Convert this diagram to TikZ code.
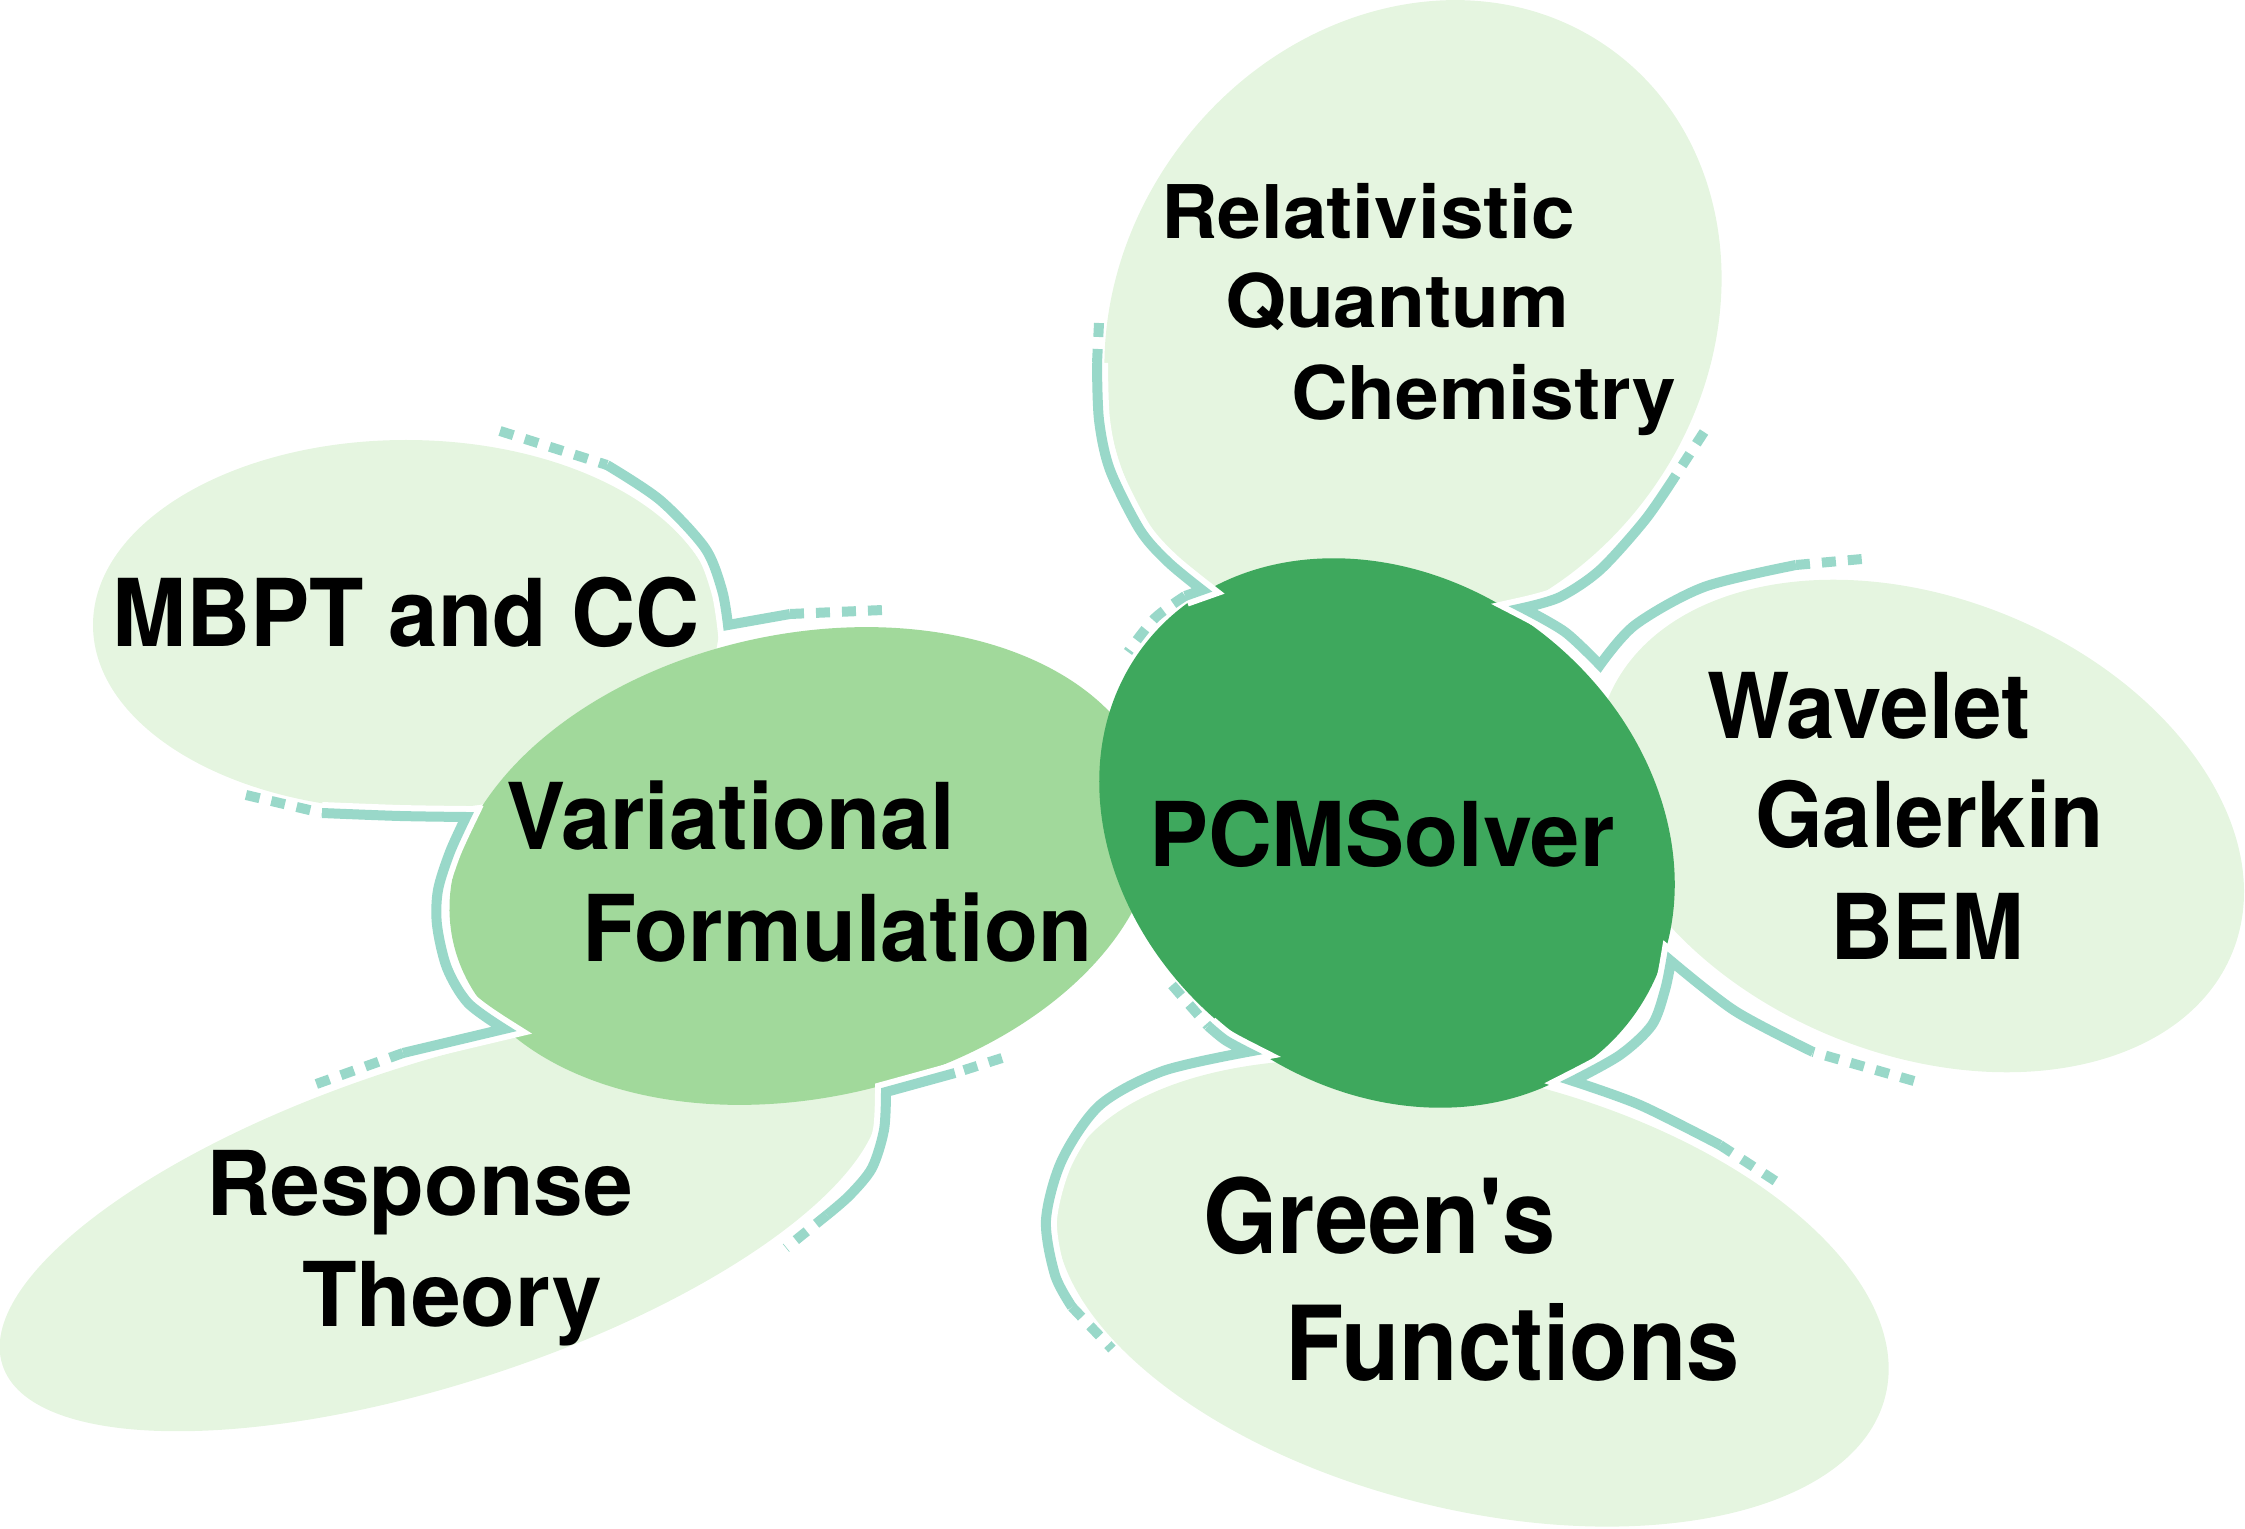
\documentclass[tikz,border=0pt]{standalone}
\usepackage{fontspec}
\setmainfont{TeX Gyre Heros}[Ligatures=TeXOff]
\usetikzlibrary{shapes.geometric}
\definecolor{gOuter}{HTML}{E5F5E0}
\definecolor{gMid}{HTML}{A1D99B}
\definecolor{gDark}{HTML}{3EA85D}
\definecolor{connTeal}{HTML}{99D8C9}
\tikzset{
  bubble/.style={ellipse, inner sep=0pt, draw=none},
  outerbub/.style={bubble, fill=gOuter},
  whiteline/.style={draw=white, line width=11pt, line join=miter, miter limit=12},
  conn/.style={draw=connTeal, line width=5pt, line join=miter, miter limit=12},
  conndash/.style={draw=connTeal, line width=5pt, dash pattern=on 7pt off 6pt}
}
\tikzset{lbl/.style={anchor=base west, inner sep=0pt, outer sep=0pt, text=black, font=\bfseries}}
\newcommand{\lblsize}[1]{\fontsize{#1}{#1}\selectfont}
\newcommand{\cOne}{plot[smooth] coordinates {(607,465) (660,500) (705,548) (722,590) (728,625)} -- (790,614)}
\newcommand{\cTwo}{plot[smooth] coordinates {(322,813) (400,816) (466,817)}
  -- plot[smooth] coordinates {(466,817) (450,852) (438,890) (437,925) (447,968) (468,1003) (504,1029)}
  -- (403,1053)}
\newcommand{\cThree}{(955,1073) -- (886,1092)
  -- plot[smooth] coordinates {(886,1092) (884,1130) (872,1168) (850,1195) (827,1215)}}
\newcommand{\cFour}{plot[smooth] coordinates {(1097,363) (1099,420) (1110,470) (1140,530) (1168,562) (1202,590)} -- (1185,596)}
\newcommand{\cFive}{plot[smooth] coordinates {(1676,475) (1645,520) (1600,570) (1560,597) (1523,608)}
  -- plot[smooth] coordinates {(1523,608) (1565,632) (1600,665)}
  -- plot[smooth] coordinates {(1600,665) (1635,625) (1704,587) (1796,565)}}
\newcommand{\cSix}{plot[smooth] coordinates {(1813,1052) (1735,1011) (1671,961)}
  -- plot[smooth] coordinates {(1671,961) (1665,990) (1652,1025) (1620,1055) (1573,1081)}
  -- plot[smooth] coordinates {(1573,1081) (1640,1105) (1720,1145)}}
\newcommand{\cSeven}{plot[smooth] coordinates {(1208,1026) (1225,1040) (1247,1052)}
  -- plot[smooth] coordinates {(1247,1052) (1163,1071) (1100,1105) (1062,1160) (1046,1220) (1055,1275) (1072,1307)}}
\begin{document}
\begin{tikzpicture}[x=0.5pt, y=-0.5pt]
\useasboundingbox (0,0) rectangle (2245,1529);
\clip (0,0) rectangle (2245,1529);
% outer bubbles
\node[outerbub, minimum width=313pt, minimum height=185pt] (mbpt) at (406,625) {};
\node[outerbub, minimum width=460pt, minimum height=160pt, rotate=18] (resp) at (440,1223) {};
\node[outerbub, minimum width=337pt, minimum height=292pt, rotate=53.6] (rqc) at (1413,322) {};
\node[outerbub, minimum width=337pt, minimum height=228pt, rotate=-22] (wav) at (1920,826) {};
\node[outerbub, minimum width=426pt, minimum height=216pt, rotate=-14] (green) at (1472,1293) {};
% inner bubbles
\node[bubble, fill=gMid, minimum width=358pt, minimum height=232pt, rotate=12] (var) at (803,866) {};
\node[bubble, fill=gDark, minimum width=307pt, minimum height=253pt, rotate=-38] (pcm) at (1387,833) {};

% white halos under the solid connector parts
\draw[whiteline] \cOne;
\draw[whiteline] \cTwo;
\draw[whiteline] \cThree;
\draw[whiteline] \cFour;
\draw[whiteline] \cFive;
\draw[whiteline] \cSix;
\draw[whiteline] \cSeven;

% connector 1: MBPT top -> Variational top
\draw[conndash] (500,431) -- (607,465);
\draw[conn] \cOne;
\draw[conndash] (790,614) -- (883,610);
% connector 2: MBPT bottom -> Variational left -> Response top
\draw[conndash] (246,795) -- (322,813);
\draw[conn] \cTwo;
\draw[conndash] (403,1053) -- (308,1087);
% connector 3: Variational bottom right -> Response right
\draw[conndash] (1002,1058) -- (955,1073);
\draw[conn] \cThree;
\draw[conndash] (827,1215) -- (786,1248);
% connector 4: RQC left -> PCM top left
\draw[conndash] (1099,323) -- (1097,363);
\draw[conn] \cFour;
\draw[conndash] plot[smooth] coordinates {(1185,596) (1155,618) (1128,652)};
% connector 5: RQC right -> tip -> Wavelet top
\draw[conndash] (1704,432) -- (1676,475);
\draw[conn] \cFive;
\draw[conndash] (1796,565) -- (1862,559);
% connector 6: Wavelet bottom -> tip -> Green's top right
\draw[conndash] (1914,1081) -- (1813,1052);
\draw[conn] \cSix;
\draw[conndash] (1720,1145) -- (1780,1184);
% connector 7: PCM bottom left -> Green's left
\draw[conndash] (1172,985) -- (1208,1026);
\draw[conn] \cSeven;
\draw[conndash] (1072,1307) -- (1112,1349);

% labels
\node[lbl] (t-mbpt) at (112,647) {\lblsize{46.8pt}\scalebox{0.95}[1]{MBPT and CC}};
\node[lbl] (t-var1) at (506,849) {\lblsize{46.1pt}\scalebox{0.96}[1]{Variational}};
\node[lbl] (t-var2) at (582,961) {\lblsize{46.1pt}\scalebox{0.96}[1]{Formulation}};
\node[lbl] (t-pcm) at (1149,866) {\lblsize{44.7pt}\scalebox{0.99}[1]{PCMSolver}};
\node[lbl] (t-rqc1) at (1161,239) {\lblsize{37pt}\scalebox{1.06}[1]{Relativistic}};
\node[lbl] (t-rqc2) at (1225,328) {\lblsize{37pt}\scalebox{1.06}[1]{Quantum}};
\node[lbl] (t-rqc3) at (1291,420) {\lblsize{37pt}\scalebox{1.06}[1]{Chemistry}};
\node[lbl] (t-wav1) at (1707,739) {\lblsize{45.4pt}\scalebox{0.96}[1]{Wavelet}};
\node[lbl] (t-wav2) at (1755,848) {\lblsize{45.4pt}\scalebox{0.96}[1]{Galerkin}};
\node[lbl] (t-wav3) at (1830,959) {\lblsize{45.4pt}\scalebox{0.96}[1]{BEM}};
\node[lbl] (t-gr1) at (1203,1253) {\lblsize{51.7pt}\scalebox{0.925}[1]{Green's}};
\node[lbl] (t-gr2) at (1285,1380) {\lblsize{51.7pt}\scalebox{0.925}[1]{Functions}};
\node[lbl] (t-resp1) at (206,1215) {\lblsize{44.7pt}\scalebox{1.0}[1]{Response}};
\node[lbl] (t-resp2) at (302,1326) {\lblsize{44.7pt}\scalebox{1.0}[1]{Theory}};
\end{tikzpicture}
\end{document}
